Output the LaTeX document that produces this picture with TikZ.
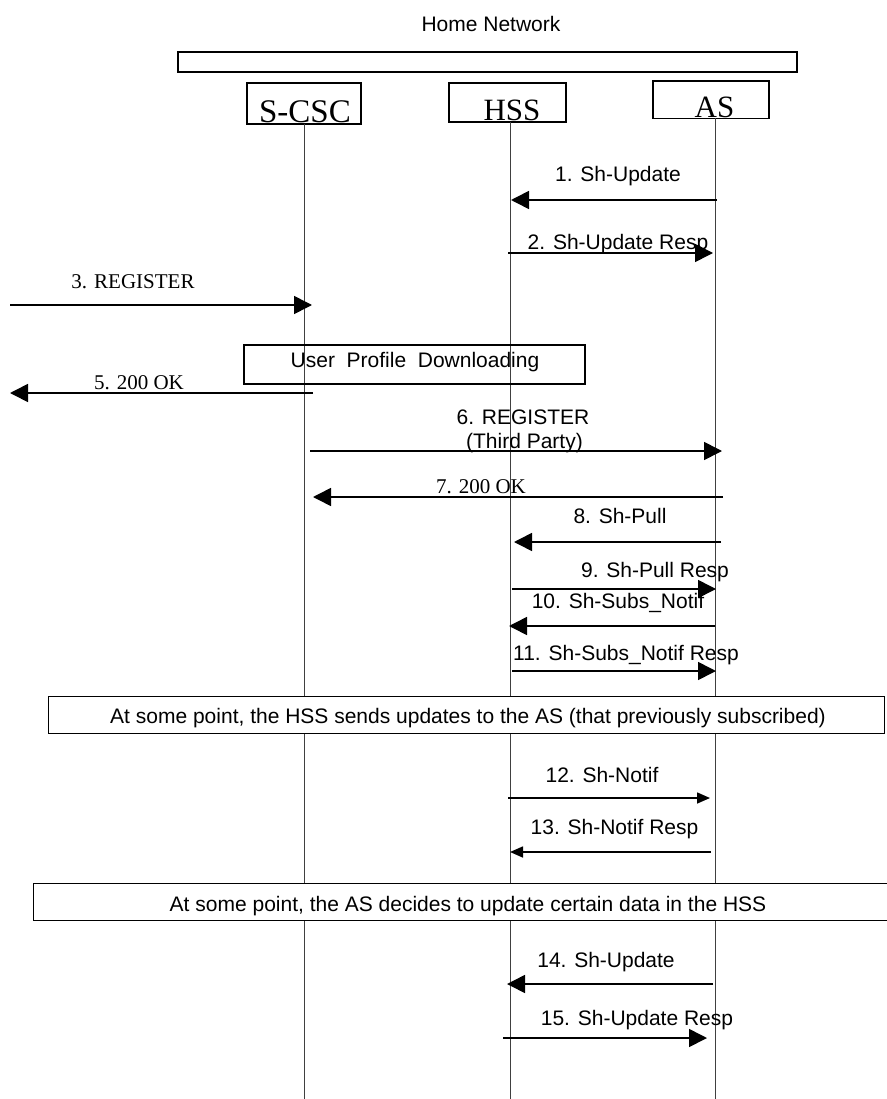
\documentclass[tikz,border=0pt]{standalone}
\usepackage{fontspec}
\setmainfont{Liberation Serif}
\newfontfamily\arialf{Liberation Sans}
\usetikzlibrary{arrows.meta}
\begin{document}
\begin{tikzpicture}[x=1pt,y=-1pt,
  msg/.style={font=\arialf\fontsize{21}{24}\selectfont, anchor=base, inner sep=0pt},
  tmsg/.style={font=\fontsize{21}{24}\selectfont, anchor=base, inner sep=0pt},
  entbox/.style={draw, line width=1.6pt, inner sep=0pt},
  entlbl/.style={font=\fontsize{31}{33}\selectfont, anchor=base, inner sep=0pt},
  life/.style={draw=black!75, line width=1pt},
  bigarr/.style={line width=1.6pt, -{Triangle[length=18pt,width=18pt]}},
  smallarr/.style={line width=1.6pt, -{Triangle[length=13pt,width=11pt]}},
  notebox/.style={draw, line width=1pt, fill=white, inner sep=0pt}]
\useasboundingbox (0,0) rectangle (886,1099);
\fill[white] (0,0) rectangle (886,1099);

% header
\node[msg] (home) at (491,32) {Home Network};
\node[draw, line width=1.3pt, minimum width=619pt, minimum height=20pt, inner sep=0pt] (bar) at (487.5,62) {};

% entities
\node[entbox, minimum width=114pt, minimum height=41pt] (scsc) at (304,103.5) {};
\node[entbox, minimum width=117pt, minimum height=39pt] (hss) at (507.5,102.5) {};
\node[entbox, minimum width=116pt, minimum height=37.5pt] (as) at (711,99.75) {};
\node[entlbl, font=\fontsize{33}{35}\selectfont] (scscl) at (305,123) {S-CSC};
\node[entlbl] (hssl) at (512,121) {HSS};
\node[entlbl] (asl) at (714.5,117.5) {AS};

% lifelines
\coordinate (scscT) at (304,124);
\coordinate (hssT) at (510,122);
\coordinate (asT) at (715,118.5);
\coordinate (scscB) at (304,1100);
\coordinate (hssB) at (510,1100);
\coordinate (asB) at (715,1100);
\draw[life] (scscT) -- (scscB);
\draw[life] (hssT) -- (hssB);
\draw[life] (asT) -- (asB);

% user profile box
\node[draw, line width=1.3pt, minimum width=341pt, minimum height=39pt, inner sep=0pt] (upd) at (414.5,364.5) {};
\node[msg] (updl) at (415,367) {User\ \ Profile\ \ Downloading};

% messages
\coordinate (m1s) at (717,200);  \coordinate (m1e) at (511,200);
\coordinate (m2s) at (508,253);  \coordinate (m2e) at (713,253);
\coordinate (m3s) at (10,305);   \coordinate (m3e) at (312,305);
\coordinate (m5s) at (313,393);  \coordinate (m5e) at (10,393);
\coordinate (m6s) at (310,451);  \coordinate (m6e) at (722,451);
\coordinate (m7s) at (723,497);  \coordinate (m7e) at (313,497);
\coordinate (m8s) at (721,542);  \coordinate (m8e) at (514,542);
\coordinate (m9s) at (512,589);  \coordinate (m9e) at (716,589);
\coordinate (m10s) at (715,626); \coordinate (m10e) at (509,626);
\coordinate (m11s) at (512,671); \coordinate (m11e) at (716,671);
\coordinate (m12s) at (508,798); \coordinate (m12e) at (710,798);
\coordinate (m13s) at (711,852); \coordinate (m13e) at (510,852);
\coordinate (m14s) at (713,984); \coordinate (m14e) at (507,984);
\coordinate (m15s) at (503,1038);\coordinate (m15e) at (707,1038);

\draw[bigarr] (m1s) -- (m1e);
\draw[bigarr] (m2s) -- (m2e);
\draw[bigarr] (m3s) -- (m3e);
\draw[bigarr] (m5s) -- (m5e);
\draw[bigarr] (m6s) -- (m6e);
\draw[bigarr] (m7s) -- (m7e);
\draw[bigarr] (m8s) -- (m8e);
\draw[bigarr] (m9s) -- (m9e);
\draw[bigarr] (m10s) -- (m10e);
\draw[bigarr] (m11s) -- (m11e);
\draw[smallarr] (m12s) -- (m12e);
\draw[smallarr] (m13s) -- (m13e);
\draw[bigarr] (m14s) -- (m14e);
\draw[bigarr] (m15s) -- (m15e);

\node[msg] (l1) at (618,182) {1. Sh-Update};
\node[msg] (l2) at (618,250) {2. Sh-Update Resp};
\node[tmsg] (l3) at (133,288) {3. REGISTER};
\node[tmsg] (l5) at (139,389) {5. 200 OK};
\node[msg] (l6) at (523,424) {6. REGISTER};
\node[msg] (l6b) at (524.5,448) {(Third Party)};
\node[tmsg] (l7) at (481,493) {7. 200 OK};
\node[msg] (l8) at (620,523) {8. Sh-Pull};
\node[msg] (l9) at (655,577) {9. Sh-Pull Resp};
\node[msg] (l10) at (618,608) {10. Sh-Subs\_Notif};
\node[msg] (l11) at (626,660) {11. Sh-Subs\_Notif Resp};
\node[msg] (l12) at (602,782) {12. Sh-Notif};
\node[msg] (l13) at (614.5,834) {13. Sh-Notif Resp};
\node[msg] (l14) at (606,967) {14. Sh-Update};
\node[msg] (l15) at (637,1025) {15. Sh-Update Resp};

% note boxes
\node[notebox, minimum width=836pt, minimum height=37pt] (note1) at (466,714.5) {};
\node[msg] (note1l) at (468,723) {At some point, the HSS sends updates to the AS (that previously subscribed)};
\node[notebox, minimum width=857pt, minimum height=37pt] (note2) at (461.5,901.5) {};
\node[msg] (note2l) at (468,911) {At some point, the AS decides to update certain data in the HSS};
\end{tikzpicture}
\end{document}
